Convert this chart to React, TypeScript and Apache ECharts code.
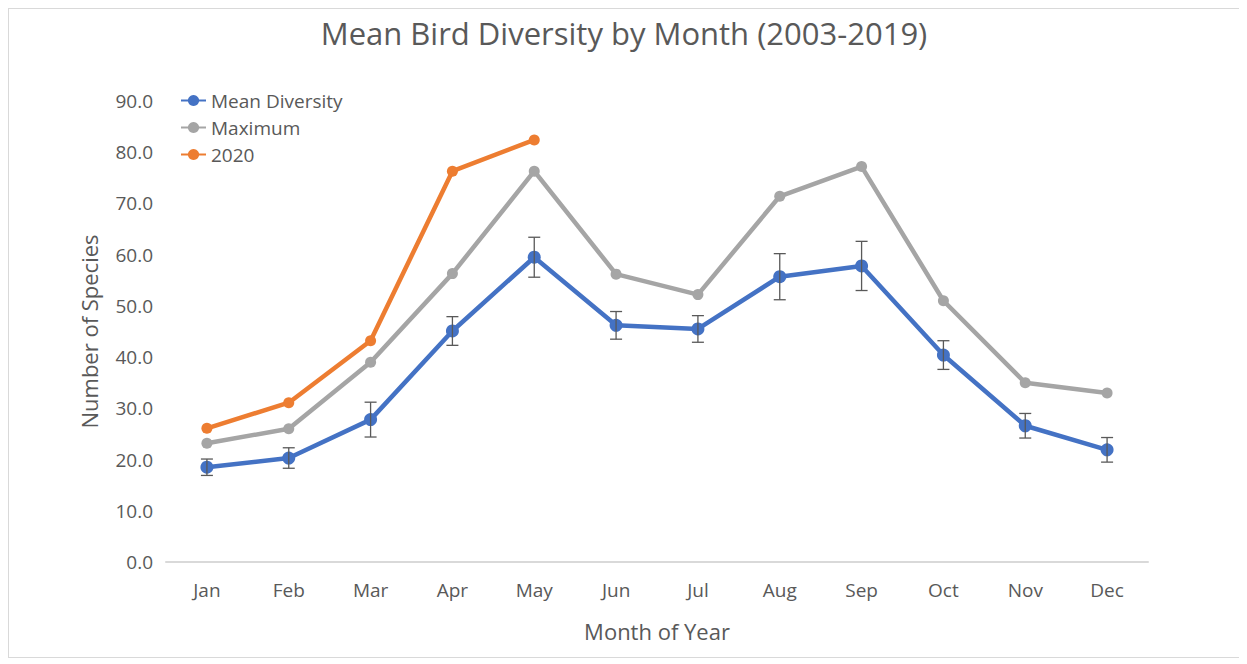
import React, { useEffect, useRef } from "react";
import * as echarts from "echarts";

const months = ["Jan", "Feb", "Mar", "Apr", "May", "Jun", "Jul", "Aug", "Sep", "Oct", "Nov", "Dec"];
const meanDiversity = [18.5, 20.3, 27.8, 45.1, 59.5, 46.2, 45.5, 55.7, 57.8, 40.4, 26.6, 21.9];
const meanError = [1.6, 2.0, 3.4, 2.8, 3.9, 2.7, 2.6, 4.5, 4.8, 2.8, 2.4, 2.4];
const maximum = [23.2, 26.0, 39.0, 56.3, 76.3, 56.2, 52.2, 71.4, 77.2, 51.0, 35.0, 33.0];
const year2020 = [26.1, 31.1, 43.2, 76.3, 82.4];

const FONT = "'Open Sans', 'Noto Sans', sans-serif";
const TXT = "#595959";

export default function App() {
  const ref = useRef<HTMLDivElement>(null);
  useEffect(() => {
    if (!ref.current) return;
    const chart = echarts.init(ref.current, undefined, { renderer: "svg" });
    const errData = months.map((m, i) => [i, meanDiversity[i] - meanError[i], meanDiversity[i] + meanError[i]]);
    chart.setOption({
      animation: false,
      backgroundColor: "#ffffff",
      textStyle: { fontFamily: FONT },
      title: {
        text: "Mean Bird Diversity by Month (2003-2019)",
        left: "center",
        top: 3,
        textStyle: { fontFamily: FONT, fontSize: 31, fontWeight: "normal", color: TXT },
      },
      legend: {
        orient: "vertical",
        left: 166,
        top: 77,
        itemGap: 8,
        itemWidth: 25,
        itemHeight: 14,
        textStyle: { fontFamily: FONT, fontSize: 19, color: TXT },
        data: ["Mean Diversity", "Maximum", "2020"],
      },
      grid: { left: 157, right: 91, top: 92, bottom: 95 },
      xAxis: {
        type: "category",
        data: months,
        boundaryGap: true,
        name: "Month of Year",
        nameLocation: "middle",
        nameGap: 58,
        nameTextStyle: { fontFamily: FONT, fontSize: 22, color: TXT },
        axisLine: { lineStyle: { color: "#d9d9d9", width: 2 } },
        axisTick: { show: false },
        axisLabel: { fontFamily: FONT, fontSize: 19, color: TXT, margin: 18 },
        splitLine: { show: false },
      },
      yAxis: {
        type: "value",
        min: 0,
        max: 90,
        interval: 10,
        name: "Number of Species",
        nameLocation: "middle",
        nameGap: 66,
        nameTextStyle: { fontFamily: FONT, fontSize: 22, color: TXT },
        axisLine: { show: false },
        axisTick: { show: false },
        splitLine: { show: false },
        axisLabel: {
          fontFamily: FONT,
          fontSize: 19,
          color: TXT,
          margin: 13,
          formatter: (v: number) => v.toFixed(1),
        },
      },
      series: [
        {
          name: "Mean Diversity",
          type: "line",
          data: meanDiversity,
          symbol: "circle",
          symbolSize: 13,
          itemStyle: { color: "#4472C4" },
          lineStyle: { color: "#4472C4", width: 4.5 },
          z: 4,
        },
        {
          name: "Maximum",
          type: "line",
          data: maximum,
          symbol: "circle",
          symbolSize: 11,
          itemStyle: { color: "#A5A5A5" },
          lineStyle: { color: "#A5A5A5", width: 4.5 },
          z: 3,
        },
        {
          name: "2020",
          type: "line",
          data: year2020,
          symbol: "circle",
          symbolSize: 11,
          itemStyle: { color: "#ED7D31" },
          lineStyle: { color: "#ED7D31", width: 4.5 },
          z: 3,
        },
        {
          name: "error",
          type: "custom",
          data: errData,
          z: 5,
          silent: true,
          renderItem: (params: any, api: any) => {
            const x = api.value(0);
            const lo = api.coord([x, api.value(1)]);
            const hi = api.coord([x, api.value(2)]);
            const w = 6;
            const style = { stroke: "#595959", lineWidth: 1.3 };
            return {
              type: "group",
              children: [
                { type: "line", shape: { x1: lo[0], y1: lo[1], x2: hi[0], y2: hi[1] }, style },
                { type: "line", shape: { x1: lo[0] - w, y1: lo[1], x2: lo[0] + w, y2: lo[1] }, style },
                { type: "line", shape: { x1: hi[0] - w, y1: hi[1], x2: hi[0] + w, y2: hi[1] }, style },
              ],
            };
          },
        },
      ],
    });
    return () => chart.dispose();
  }, []);
  return (
    <div
      ref={ref}
      style={{ width: 1232, height: 650, border: "1px solid #d9d9d9", boxSizing: "border-box" }}
    />
  );
}
